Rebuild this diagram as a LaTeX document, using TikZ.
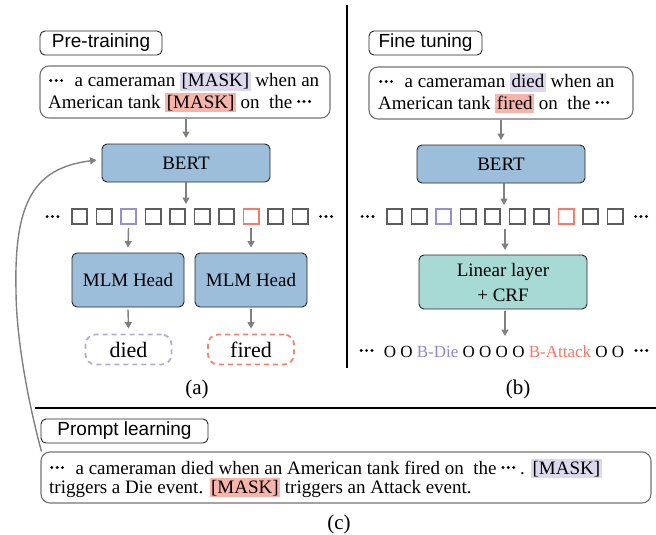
\documentclass[tikz,border=0pt]{standalone}
\usepackage{fontspec}
\setmainfont{Liberation Serif}
\setsansfont{Liberation Sans}
\usetikzlibrary{arrows.meta}
\definecolor{bluebox}{HTML}{9CBEDA}
\definecolor{tealbox}{HTML}{A7DAD4}
\definecolor{hlp}{HTML}{DCD9ED}
\definecolor{hlr}{HTML}{F6B4AB}
\definecolor{sqp}{HTML}{9A8ED0}
\definecolor{sqr}{HTML}{F27D6E}
\definecolor{sqg}{HTML}{5C5C5C}
\definecolor{arrgray}{HTML}{808080}
\definecolor{dashp}{HTML}{B5ACDA}
\definecolor{dashr}{HTML}{F28475}
\definecolor{bdie}{HTML}{9488CC}
\definecolor{batt}{HTML}{F47A69}
\newcommand\hlP[1]{{\setlength{\fboxsep}{1.5pt}\colorbox{hlp}{\vphantom{[]}#1}}}
\newcommand\hlR[1]{{\setlength{\fboxsep}{1.5pt}\colorbox{hlr}{\vphantom{[]}#1}}}
\newcommand\dts{\tikz[x=1pt,y=1pt,baseline=0pt]{\useasboundingbox (0,0) rectangle (14,1);
  \fill (1.6,6.5) circle (1.6pt) (7,6.5) circle (1.6pt) (12.4,6.5) circle (1.6pt);}}
\tikzset{
  lbl/.style={draw=black!85, rounded corners=5pt, line width=0.9pt, inner sep=0pt,
    font=\sffamily\fontsize{19}{19}\selectfont},
  tbox/.style={draw=black!55, rounded corners=9pt, line width=1.1pt, inner sep=0pt},
  txt/.style={anchor=base west, inner sep=0pt, font=\fontsize{19}{21}\selectfont},
  model/.style={draw=black!85, fill=bluebox, rounded corners=5pt, line width=0.9pt,
    inner sep=0pt, font=\fontsize{19}{25}\selectfont, align=center},
  sqbox/.style={draw=#1, line width=1.8pt, minimum size=15.2pt, inner sep=0pt},
  outbox/.style={draw=#1, dashed, dash pattern=on 5pt off 4pt, line width=1.8pt,
    rounded corners=10pt, minimum width=86pt, minimum height=30pt, inner sep=0pt,
    font=\fontsize{22}{22}\selectfont},
  arr/.style={draw=arrgray, line width=1.4pt, -{Triangle[length=6.5pt,width=7pt]}},
  caplbl/.style={inner sep=0pt, font=\fontsize{21}{21}\selectfont},
  dotlbl/.style={inner sep=0pt, anchor=base},
}
\begin{document}
\begin{tikzpicture}[x=1pt,y=-1pt]
\useasboundingbox (0,0) rectangle (656,535);

% separators
\draw[line width=2pt] (347,5) -- (347,368);
\draw[line width=2pt] (35,408) -- (656,408);

% ---------------- (a) Pre-training ----------------
\node[lbl, minimum width=122pt, minimum height=24pt] (preL) at (101,43) {Pre-training};
\node[tbox, minimum width=290pt, minimum height=52pt] (ta) at (185,92) {};
\node[txt] (ta1) at (49,87) {\dts\hspace{0.6em}a cameraman \hlP{[MASK]} when an};
\node[txt] (ta2) at (48,108) {American tank \hlR{[MASK]} on\ \ the \dts};
\node[model, minimum width=168pt, minimum height=38pt] (bertA) at (186,163) {BERT};
\foreach \i/\c in {0/sqg,1/sqg,2/sqp,3/sqg,4/sqg,5/sqg,6/sqg,7/sqr,8/sqg,9/sqg}
  \node[sqbox=\c] (sa\i) at ({79.5+24.5*\i},216.5) {};
\node[dotlbl] (dA1) at (52.5,223) {\dts};
\node[dotlbl] (dA2) at (326,223) {\dts};
\node[model, minimum width=112pt, minimum height=54pt] (mA1) at (128,280) {MLM Head};
\node[model, minimum width=112pt, minimum height=54pt] (mA2) at (251,280) {MLM Head};
\node[outbox=dashp] (oA1) at (128.5,349.5) {died};
\node[outbox=dashr] (oA2) at (251,349.5) {fired};
\node[caplbl] (capA) at (197,389) {(a)};

\coordinate (eA1) at (186,138);
\coordinate (eA2) at (186,204);
\draw[arr] (bertA.north |- ta.south) -- (eA1);
\draw[arr] (bertA.south) -- (eA2);
\draw[arr] ([yshift=-3pt]sa2.south) -- ([yshift=5pt]mA1.north);
\draw[arr] ([yshift=-3pt]sa7.south) -- ([yshift=5pt]mA2.north);
\draw[arr] ([yshift=-2pt]mA1.south) -- ([yshift=5pt]oA1.north);
\draw[arr] ([yshift=-2pt]mA2.south) -- ([yshift=5pt]oA2.north);

% ---------------- (b) Fine tuning ----------------
\node[lbl, minimum width=113pt, minimum height=24pt] (ftL) at (425.5,43) {Fine tuning};
\node[tbox, minimum width=264pt, minimum height=52pt] (tb) at (501,93) {};
\node[txt] (tb1) at (379,88) {\dts\hspace{0.6em}a cameraman \hlP{died} when an};
\node[txt] (tb2) at (378,109) {American tank \hlR{fired} on\ \ the \dts};
\node[model, minimum width=168pt, minimum height=38pt] (bertB) at (501,164) {BERT};
\foreach \i/\c in {0/sqg,1/sqg,2/sqp,3/sqg,4/sqg,5/sqg,6/sqg,7/sqr,8/sqg,9/sqg}
  \node[sqbox=\c] (sb\i) at ({394.5+24.5*\i},216.5) {};
\node[dotlbl] (dB1) at (367.5,223) {\dts};
\node[dotlbl] (dB2) at (641,223) {\dts};
\node[model, fill=tealbox, minimum width=168pt, minimum height=54pt] (lin) at (503,282) {Linear layer\\+ CRF};
\node[anchor=base, inner sep=0pt, font=\fontsize{17}{17}\selectfont] (outB) at (504,357)
  {\dts\hspace{0.6em}O O \textcolor{bdie}{B-Die} O O O O \textcolor{batt}{B-Attack} O O\hspace{0.6em}\dts};
\node[caplbl] (capB) at (518,389) {(b)};

\coordinate (eB1) at (501,140);
\coordinate (eB2) at (504,205);
\coordinate (sB) at (505,229);
\coordinate (eB4) at (505,250);
\coordinate (eB3) at (505,336);
\draw[arr] (bertB.north |- tb.south) -- (eB1);
\draw[arr] (bertB.south -| eB2) -- (eB2);
\draw[arr] (sB) -- (eB4);
\draw[arr] ([yshift=-2pt]lin.south -| eB3) -- (eB3);

% ---------------- (c) Prompt learning ----------------
\node[lbl, minimum width=167pt, minimum height=24pt] (plL) at (124.5,431) {Prompt learning};
\node[tbox, minimum width=610pt, minimum height=51pt] (pbox) at (346,477.5) {};
\node[txt] (pc1) at (50,474) {\dts\hspace{0.6em}a cameraman died when an American tank fired on\ \ the \dts\ . \hlP{[MASK]}};
\node[txt] (pc2) at (49,493) {triggers a Die event. \hlR{[MASK]} triggers an Attack event.};
\node[caplbl] (capC) at (339,524) {(c)};

\draw[arr] ([xshift=1pt]pbox.north west) .. controls (25,390) and (16,330) .. (16,290)
  .. controls (14,200) and (35,168) .. ([xshift=-5pt,yshift=3pt]bertA.west);
\end{tikzpicture}
\end{document}
